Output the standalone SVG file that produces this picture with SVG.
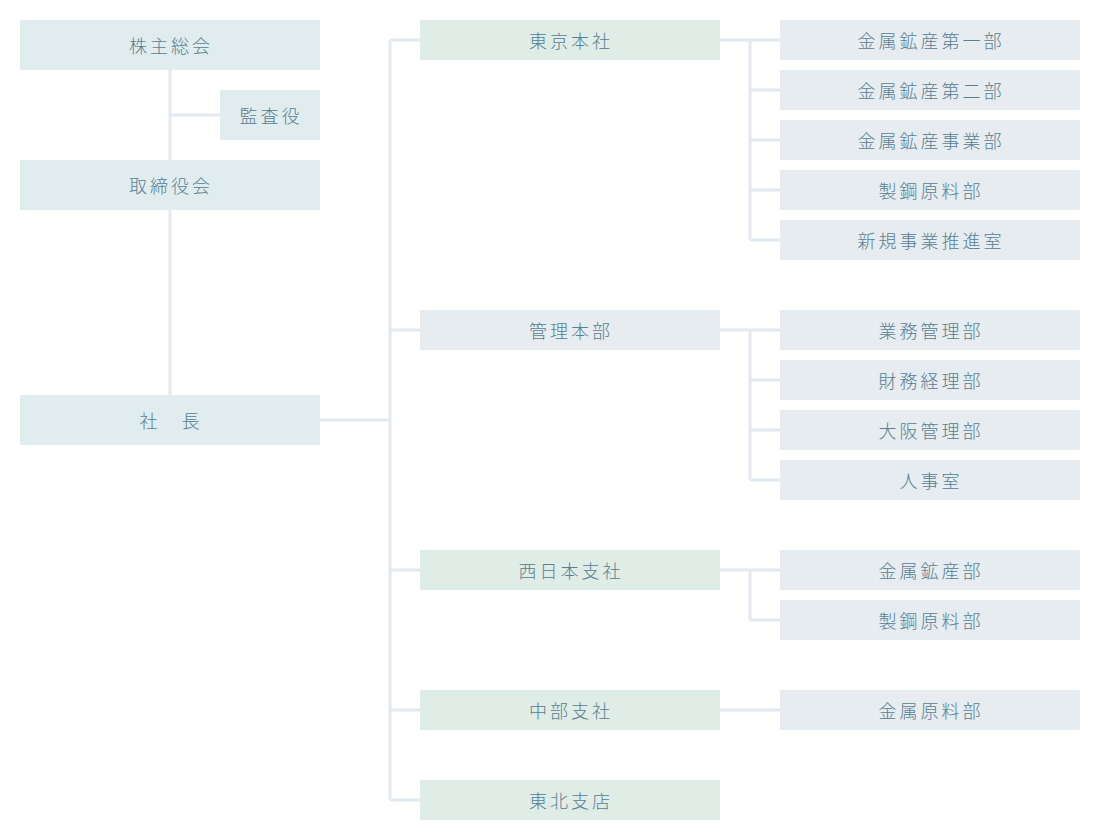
<svg xmlns="http://www.w3.org/2000/svg" width="1100" height="840" viewBox="0 0 1100 840">
<style>
.l{fill:none;stroke:#e3eaef;stroke-width:3}
.a{fill:#e0ecee}
.g{fill:#e0ece6}
.b{fill:#e6ecef}
text{font-family:"Noto Sans CJK JP","Noto Sans CJK SC",sans-serif;font-size:18px;font-weight:300;fill:#588093;text-anchor:middle;dominant-baseline:central;letter-spacing:3px}
</style>
<rect width="1100" height="840" fill="#fff"/>
<g id="connectors">
<path class="l" d="M170 70V395M170 115H220M320 420H390M390 40V800M390 40H420M390 330H420M390 570H420M390 710H420M390 800H420"/>
<path class="l" d="M720 40H780M750 40V240M750 90H780M750 140H780M750 190H780M750 240H780"/>
<path class="l" d="M720 330H780M750 330V480M750 380H780M750 430H780M750 480H780"/>
<path class="l" d="M720 570H780M750 570V620M750 620H780"/>
<path class="l" d="M720 710H780"/>
</g>
<g id="n1"><rect class="a" x="20" y="20" width="300" height="50"/><text x="171" y="45">株主総会</text></g>
<g id="n2"><rect class="a" x="220" y="90" width="100" height="50"/><text x="271" y="115">監査役</text></g>
<g id="n3"><rect class="a" x="20" y="160" width="300" height="50"/><text x="171" y="185">取締役会</text></g>
<g id="n4"><rect class="a" x="20" y="395" width="300" height="50"/><text x="171" y="420">社　長</text></g>
<g id="m1"><rect class="g" x="420" y="20" width="300" height="40"/><text x="571" y="40">東京本社</text></g>
<g id="m2"><rect class="b" x="420" y="310" width="300" height="40"/><text x="571" y="330">管理本部</text></g>
<g id="m3"><rect class="g" x="420" y="550" width="300" height="40"/><text x="571" y="570">西日本支社</text></g>
<g id="m4"><rect class="g" x="420" y="690" width="300" height="40"/><text x="571" y="710">中部支社</text></g>
<g id="m5"><rect class="g" x="420" y="780" width="300" height="40"/><text x="571" y="800">東北支店</text></g>
<g id="r1"><rect class="b" x="780" y="20" width="300" height="40"/><text x="931" y="40">金属鉱産第一部</text></g>
<g id="r2"><rect class="b" x="780" y="70" width="300" height="40"/><text x="931" y="90">金属鉱産第二部</text></g>
<g id="r3"><rect class="b" x="780" y="120" width="300" height="40"/><text x="931" y="140">金属鉱産事業部</text></g>
<g id="r4"><rect class="b" x="780" y="170" width="300" height="40"/><text x="931" y="190">製鋼原料部</text></g>
<g id="r5"><rect class="b" x="780" y="220" width="300" height="40"/><text x="931" y="240">新規事業推進室</text></g>
<g id="r6"><rect class="b" x="780" y="310" width="300" height="40"/><text x="931" y="330">業務管理部</text></g>
<g id="r7"><rect class="b" x="780" y="360" width="300" height="40"/><text x="931" y="380">財務経理部</text></g>
<g id="r8"><rect class="b" x="780" y="410" width="300" height="40"/><text x="931" y="430">大阪管理部</text></g>
<g id="r9"><rect class="b" x="780" y="460" width="300" height="40"/><text x="931" y="480">人事室</text></g>
<g id="r10"><rect class="b" x="780" y="550" width="300" height="40"/><text x="931" y="570">金属鉱産部</text></g>
<g id="r11"><rect class="b" x="780" y="600" width="300" height="40"/><text x="931" y="620">製鋼原料部</text></g>
<g id="r12"><rect class="b" x="780" y="690" width="300" height="40"/><text x="931" y="710">金属原料部</text></g>
</svg>
